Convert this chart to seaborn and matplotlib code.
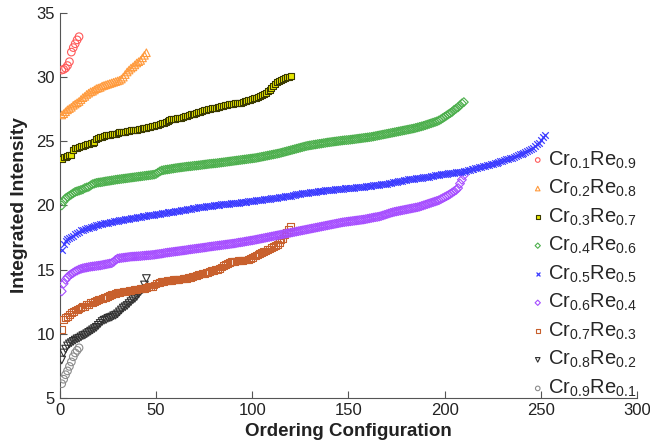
import numpy as np
import pandas as pd
import matplotlib
matplotlib.use("Agg")
import matplotlib.pyplot as plt
import seaborn as sns

# ---------------- data ----------------
labels = [r"Cr$_{\mathrm{0.1}}$Re$_{\mathrm{0.9}}$",
          r"Cr$_{\mathrm{0.2}}$Re$_{\mathrm{0.8}}$",
          r"Cr$_{\mathrm{0.3}}$Re$_{\mathrm{0.7}}$",
          r"Cr$_{\mathrm{0.4}}$Re$_{\mathrm{0.6}}$",
          r"Cr$_{\mathrm{0.5}}$Re$_{\mathrm{0.5}}$",
          r"Cr$_{\mathrm{0.6}}$Re$_{\mathrm{0.4}}$",
          r"Cr$_{\mathrm{0.7}}$Re$_{\mathrm{0.3}}$",
          r"Cr$_{\mathrm{0.8}}$Re$_{\mathrm{0.2}}$",
          r"Cr$_{\mathrm{0.9}}$Re$_{\mathrm{0.1}}$"]

cr01 = [30.55, 30.6, 30.7, 30.9, 31.2, 31.95, 32.3, 32.6, 32.9, 33.15]

cr02 = [27.05, 27.15, 27.3, 27.45, 27.55, 27.65, 27.8, 27.9, 28.0, 28.1,
        28.25, 28.4, 28.5, 28.65, 28.75, 28.85, 28.9, 29.0, 29.1, 29.15,
        29.2, 29.3, 29.35, 29.4, 29.45, 29.5, 29.55, 29.6, 29.65, 29.7,
        29.75, 29.85, 30.0, 30.2, 30.4, 30.55, 30.7, 30.8, 30.95, 31.1,
        31.2, 31.3, 31.5, 31.7, 31.9]

cr03 = [23.65, 23.75, 23.8, 23.85, 23.9, 23.95, 24.3, 24.45, 24.5, 24.55,
        24.6, 24.65, 24.7, 24.75, 24.8, 24.85, 24.9, 24.95, 25.2, 25.25,
        25.3, 25.35, 25.4, 25.45, 25.5, 25.5, 25.55, 25.6, 25.6, 25.65,
        25.7, 25.7, 25.75, 25.75, 25.8, 25.8, 25.85, 25.85, 25.9, 25.9,
        25.95, 25.95, 26.0, 26.0, 26.05, 26.1, 26.1, 26.15, 26.2, 26.25,
        26.3, 26.35, 26.4, 26.45, 26.5, 26.55, 26.65, 26.7, 26.72, 26.75,
        26.8, 26.82, 26.85, 26.9, 26.95, 27.0, 27.05, 27.1, 27.12, 27.15,
        27.2, 27.25, 27.3, 27.35, 27.4, 27.45, 27.5, 27.55, 27.58, 27.6,
        27.62, 27.65, 27.7, 27.72, 27.75, 27.8, 27.85, 27.88, 27.9, 27.92,
        27.95, 27.97, 28.0, 28.02, 28.05, 28.1, 28.15, 28.2, 28.25, 28.3,
        28.35, 28.4, 28.45, 28.5, 28.6, 28.7, 28.8, 28.9, 29.0, 29.15,
        29.3, 29.5, 29.6, 29.7, 29.8, 29.85, 29.95, 30.0, 30.0, 30.05]

cr04 = [20.0, 20.3, 20.55, 20.65, 20.75, 20.85, 20.95, 21.05, 21.1, 21.15,
        21.2, 21.25, 21.35, 21.4, 21.45, 21.55, 21.65, 21.7, 21.75, 21.78,
        21.8, 21.82, 21.85, 21.88, 21.9, 21.92, 21.95, 21.97, 22.0, 22.02,
        22.04, 22.06, 22.08, 22.1, 22.12, 22.14, 22.16, 22.18, 22.2, 22.22,
        22.24, 22.26, 22.28, 22.3, 22.32, 22.34, 22.36, 22.38, 22.4, 22.45,
        22.55, 22.65, 22.72, 22.75, 22.78, 22.8, 22.82, 22.85, 22.87, 22.9,
        22.92, 22.94, 22.96, 22.98, 23.0, 23.02, 23.04, 23.05, 23.07, 23.09,
        23.1, 23.12, 23.14, 23.16, 23.18, 23.2, 23.22, 23.24, 23.25, 23.27,
        23.28, 23.3, 23.32, 23.34, 23.36, 23.38, 23.4, 23.42, 23.44, 23.46,
        23.48, 23.5, 23.52, 23.54, 23.56, 23.58, 23.6, 23.62, 23.64, 23.66,
        23.68, 23.7, 23.73, 23.76, 23.79, 23.82, 23.85, 23.88, 23.91, 23.94,
        23.97, 24.0, 24.03, 24.06, 24.1, 24.14, 24.18, 24.22, 24.26, 24.3,
        24.34, 24.38, 24.42, 24.46, 24.5, 24.54, 24.58, 24.62, 24.65, 24.68,
        24.7, 24.73, 24.75, 24.78, 24.8, 24.82, 24.85, 24.87, 24.9, 24.92,
        24.94, 24.96, 24.98, 25.0, 25.02, 25.04, 25.06, 25.08, 25.09, 25.1,
        25.12, 25.14, 25.16, 25.18, 25.2, 25.22, 25.24, 25.26, 25.28, 25.3,
        25.32, 25.34, 25.37, 25.4, 25.43, 25.46, 25.49, 25.52, 25.55, 25.58,
        25.61, 25.64, 25.67, 25.7, 25.73, 25.76, 25.79, 25.82, 25.85, 25.88,
        25.91, 25.94, 25.97, 26.0, 26.04, 26.08, 26.12, 26.16, 26.2, 26.25,
        26.3, 26.35, 26.4, 26.45, 26.5, 26.55, 26.62, 26.7, 26.8, 26.9,
        27.0, 27.1, 27.2, 27.3, 27.45, 27.55, 27.65, 27.8, 27.95, 28.05]

cr05 = [16.5, 17.0, 17.2, 17.35, 17.45, 17.55, 17.65, 17.75, 17.85, 17.95,
        18.05, 18.1, 18.15, 18.2, 18.25, 18.3, 18.35, 18.4, 18.45, 18.5,
        18.53, 18.56, 18.6, 18.63, 18.66, 18.69, 18.72, 18.75, 18.78, 18.8,
        18.83, 18.86, 18.89, 18.92, 18.95, 18.97, 19.0, 19.02, 19.05, 19.07,
        19.1, 19.12, 19.15, 19.17, 19.2, 19.22, 19.25, 19.27, 19.29, 19.31,
        19.33, 19.35, 19.37, 19.4, 19.42, 19.45, 19.48, 19.5, 19.52, 19.55,
        19.57, 19.6, 19.62, 19.65, 19.67, 19.7, 19.72, 19.75, 19.77, 19.8,
        19.82, 19.84, 19.86, 19.88, 19.9, 19.92, 19.94, 19.96, 19.98, 20.0,
        20.02, 20.04, 20.05, 20.07, 20.08, 20.1, 20.12, 20.13, 20.15, 20.17,
        20.18, 20.2, 20.22, 20.24, 20.26, 20.28, 20.3, 20.32, 20.33, 20.35,
        20.37, 20.39, 20.41, 20.43, 20.45, 20.47, 20.49, 20.51, 20.53, 20.55,
        20.57, 20.59, 20.61, 20.63, 20.65, 20.67, 20.7, 20.72, 20.75, 20.77,
        20.8, 20.82, 20.85, 20.88, 20.9, 20.93, 20.95, 20.98, 21.0, 21.02,
        21.04, 21.06, 21.08, 21.1, 21.12, 21.13, 21.15, 21.17, 21.18, 21.2,
        21.22, 21.23, 21.25, 21.26, 21.28, 21.29, 21.3, 21.32, 21.33, 21.35,
        21.36, 21.38, 21.39, 21.4, 21.42, 21.43, 21.45, 21.46, 21.48, 21.5,
        21.52, 21.54, 21.56, 21.58, 21.6, 21.62, 21.64, 21.66, 21.68, 21.7,
        21.73, 21.76, 21.79, 21.82, 21.85, 21.88, 21.91, 21.94, 21.97, 22.0,
        22.02, 22.04, 22.06, 22.08, 22.1, 22.12, 22.14, 22.16, 22.18, 22.2,
        22.22, 22.25, 22.28, 22.31, 22.34, 22.37, 22.4, 22.42, 22.44, 22.46,
        22.48, 22.5, 22.52, 22.54, 22.56, 22.58, 22.6, 22.62, 22.64, 22.66,
        22.7, 22.74, 22.78, 22.82, 22.86, 22.9, 22.94, 22.98, 23.02, 23.06,
        23.1, 23.14, 23.18, 23.22, 23.26, 23.3, 23.34, 23.38, 23.43, 23.48,
        23.53, 23.58, 23.63, 23.68, 23.73, 23.78, 23.83, 23.9, 23.97, 24.04,
        24.1, 24.17, 24.24, 24.32, 24.4, 24.5, 24.6, 24.75, 24.9, 25.1,
        25.3, 25.5]

cr06 = [13.3, 13.9, 14.2, 14.4, 14.55, 14.65, 14.75, 14.85, 14.92, 15.0,
        15.05, 15.1, 15.13, 15.16, 15.19, 15.22, 15.24, 15.26, 15.28, 15.3,
        15.32, 15.35, 15.38, 15.41, 15.44, 15.47, 15.5, 15.6, 15.75, 15.85,
        15.88, 15.9, 15.92, 15.94, 15.96, 15.98, 16.0, 16.01, 16.02, 16.03,
        16.04, 16.05, 16.07, 16.08, 16.1, 16.11, 16.12, 16.14, 16.15, 16.18,
        16.2, 16.22, 16.24, 16.27, 16.3, 16.32, 16.34, 16.36, 16.38, 16.4,
        16.42, 16.44, 16.46, 16.48, 16.5, 16.52, 16.55, 16.57, 16.59, 16.61,
        16.63, 16.65, 16.67, 16.69, 16.71, 16.73, 16.76, 16.78, 16.8, 16.82,
        16.84, 16.86, 16.88, 16.9, 16.92, 16.94, 16.96, 16.98, 17.0, 17.02,
        17.04, 17.07, 17.1, 17.12, 17.14, 17.17, 17.2, 17.22, 17.25, 17.27,
        17.3, 17.33, 17.36, 17.39, 17.42, 17.45, 17.48, 17.51, 17.54, 17.57,
        17.6, 17.63, 17.66, 17.69, 17.72, 17.75, 17.78, 17.81, 17.84, 17.87,
        17.9, 17.93, 17.96, 17.99, 18.02, 18.05, 18.08, 18.11, 18.14, 18.17,
        18.2, 18.23, 18.26, 18.29, 18.32, 18.35, 18.38, 18.41, 18.44, 18.47,
        18.5, 18.53, 18.56, 18.59, 18.62, 18.65, 18.68, 18.7, 18.72, 18.74,
        18.76, 18.78, 18.8, 18.82, 18.84, 18.86, 18.88, 18.9, 18.93, 18.96,
        18.99, 19.02, 19.05, 19.08, 19.1, 19.13, 19.17, 19.22, 19.27, 19.32,
        19.37, 19.42, 19.46, 19.5, 19.53, 19.56, 19.59, 19.62, 19.65, 19.68,
        19.71, 19.74, 19.77, 19.8, 19.83, 19.86, 19.9, 19.95, 20.0, 20.05,
        20.1, 20.15, 20.2, 20.25, 20.3, 20.35, 20.4, 20.48, 20.56, 20.64,
        20.72, 20.8, 20.9, 21.0, 21.1, 21.2, 21.35, 21.7, 22.0, 22.35]

cr07 = [10.35, 11.1, 11.25, 11.35, 11.5, 11.65, 11.75, 11.85, 11.9, 11.95,
        12.05, 12.1, 12.15, 12.25, 12.3, 12.4, 12.45, 12.5, 12.6, 12.65,
        12.7, 12.75, 12.8, 12.85, 12.9, 12.95, 13.05, 13.1, 13.15, 13.2,
        13.22, 13.25, 13.27, 13.3, 13.32, 13.35, 13.37, 13.4, 13.42, 13.45,
        13.48, 13.5, 13.52, 13.55, 13.6, 13.65, 13.68, 13.7, 13.8, 13.9,
        13.95, 14.0, 14.05, 14.08, 14.1, 14.12, 14.15, 14.17, 14.2, 14.2,
        14.22, 14.25, 14.27, 14.3, 14.3, 14.32, 14.35, 14.4, 14.45, 14.5,
        14.55, 14.6, 14.65, 14.68, 14.72, 14.75, 14.8, 14.85, 14.9, 14.95,
        15.0, 15.03, 15.1, 15.2, 15.3, 15.4, 15.5, 15.55, 15.6, 15.62,
        15.65, 15.67, 15.7, 15.72, 15.73, 15.74, 15.75, 15.77, 15.85, 15.95,
        16.05, 16.1, 16.15, 16.25, 16.35, 16.4, 16.45, 16.55, 16.6, 16.7,
        16.8, 16.9, 16.95, 17.1, 17.3, 17.45, 17.7, 17.9, 18.1, 18.35]

cr08 = [7.95, 8.5, 8.8, 9.05, 9.2, 9.3, 9.4, 9.5, 9.6, 9.65,
        9.75, 9.85, 9.9, 10.0, 10.1, 10.2, 10.3, 10.4, 10.5, 10.65,
        10.8, 10.95, 11.05, 11.1, 11.2, 11.25, 11.3, 11.4, 11.45, 11.55,
        11.7, 11.85, 12.0, 12.1, 12.2, 12.35, 12.5, 12.65, 12.75, 12.9,
        13.1, 13.3, 13.45, 13.8, 14.3]

cr09 = [6.1, 6.45, 6.8, 7.1, 7.45, 7.8, 8.2, 8.5, 8.7, 8.9]

series = [cr01, cr02, cr03, cr04, cr05, cr06, cr07, cr08, cr09]

x_ticks = [0, 50, 100, 150, 200, 250, 300]
y_ticks = [5, 10, 15, 20, 25, 30, 35]

# ---------------- styling ----------------
colors = ["#ff5a5a", "#ff9a3c", "#e6e600", "#4caf4c", "#3c3cff",
          "#a64dff", "#c8602d", "#303030", "#8c8c8c"]
markers = ["o", "^", "s", "D", "x", "D", "s", "v", "o"]
msizes = [30, 30, 24, 20, 22, 20, 24, 30, 30]

sns.set_theme(style="ticks")
plt.rcParams["font.family"] = ["Liberation Sans", "DejaVu Sans"]
plt.rcParams["mathtext.fontset"] = "custom"
plt.rcParams["mathtext.rm"] = "Liberation Sans"
plt.rcParams["mathtext.it"] = "Liberation Sans:italic"
plt.rcParams["mathtext.bf"] = "Liberation Sans:bold"

fig = plt.figure(figsize=(6.5, 4.47), dpi=100)
ax = fig.add_axes([0.092, 0.110, 0.888, 0.861])

for i, vals in enumerate(series):
    df = pd.DataFrame({"config": np.arange(1, len(vals) + 1), "intensity": vals})
    kw = dict(data=df, x="config", y="intensity", ax=ax, label=labels[i],
              marker=markers[i], s=msizes[i], zorder=3 + (9 - i) * 0.01)
    if markers[i] == "x":
        sns.scatterplot(color=colors[i], linewidth=0.9, **kw)
    elif i == 2:
        sns.scatterplot(facecolor=colors[i], edgecolor="#3a3a00", linewidth=0.8, **kw)
    else:
        sns.scatterplot(facecolor="none", edgecolor=colors[i], linewidth=0.8, **kw)

ax.set_xlim(0, 300)
ax.set_ylim(5, 35)
ax.set_xticks(x_ticks)
ax.set_yticks(y_ticks)
ax.tick_params(direction="in", length=5, width=0.8, colors="#555555",
               labelsize=12, labelcolor="#222222")
for side in ["top", "right"]:
    ax.spines[side].set_visible(False)
for side in ["left", "bottom"]:
    ax.spines[side].set_color("#555555")
    ax.spines[side].set_linewidth(0.8)

ax.set_xlabel("Ordering Configuration", fontsize=13.5, fontweight="bold",
              color="#222222", labelpad=4)
ax.set_ylabel("Integrated Intensity", fontsize=13.8, fontweight="bold",
              color="#222222", labelpad=6)

leg = ax.legend(loc="upper left", bbox_to_anchor=(0.818, 0.666),
                bbox_transform=fig.transFigure, frameon=False, fontsize=14.5,
                markerscale=0.6, handlelength=0.6, handletextpad=0.2,
                labelspacing=0.36, borderpad=0.0, borderaxespad=0.0)

fig.savefig("out.png", dpi=100)
